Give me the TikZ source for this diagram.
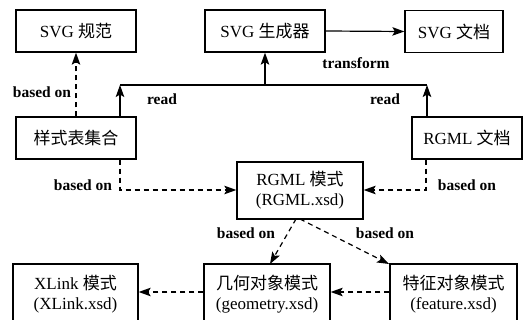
\documentclass[tikz,border=0pt]{standalone}
\usepackage{fontspec}
\setmainfont{Liberation Serif}
\newfontfamily\cjk{Noto Sans CJK SC}
\usetikzlibrary{arrows.meta}

\tikzset{
  box/.style={draw, line width=1.3pt, inner sep=0pt, align=center,
              font=\fontsize{17}{20}\selectfont},
  lbl/.style={font=\bfseries\fontsize{15.5}{17}\selectfont, inner sep=0pt},
  link/.style={line width=1.2pt, -{Stealth[length=12pt,width=8.5pt,inset=2.5pt]}},
  bus/.style={line width=1.2pt},
  dep/.style={link, dash pattern=on 5pt off 4pt},
}

\begin{document}
\begin{tikzpicture}[x=1pt,y=-1pt]
\useasboundingbox (0,0) rectangle (525,320);
\clip (0,0) rectangle (525,320);

% upper row
\node[box, minimum width=120pt, minimum height=42pt] (spec) at (76,31) {SVG {\cjk 规范}};
\node[box, minimum width=120pt, minimum height=42pt] (gen)  at (265,31) {SVG {\cjk 生成器}};
\node[box, minimum width=98pt,  minimum height=42pt] (doc)  at (454,31.5) {SVG {\cjk 文档}};

% middle row
\node[box, minimum width=120pt, minimum height=42pt] (css)  at (76,138) {\cjk 样式表集合};
\node[box, minimum width=110pt, minimum height=42pt] (rdoc) at (467,138) {RGML {\cjk 文档}};
\node[box, minimum width=126pt, minimum height=57pt] (rxsd) at (300,190.5) {RGML {\cjk 模式}\\(RGML.xsd)};

% lower row (boxes run past the lower edge)
\node[box, minimum width=125pt, minimum height=60pt] (xl)   at (75.5,294) {XLink {\cjk 模式}\\(XLink.xsd)};
\node[box, minimum width=126pt, minimum height=60pt] (geo)  at (267,294) {{\cjk 几何对象模式}\\(geometry.xsd)};
\node[box, minimum width=127pt, minimum height=60pt] (feat) at (453.5,294) {{\cjk 特征对象模式}\\(feature.xsd)};

% read bus feeding the generator
\coordinate (bl) at (120,85);
\coordinate (br) at (427,85);
\coordinate (bm) at (265,85);
\draw[bus] (bl) -- (br);
\draw[link] (css.north -| bl) -- (bl);
\draw[link] (rdoc.north -| br) -- (br);
\draw[link] (bm) -- (gen.south);
\draw[link] (gen.east) -- (doc.west);

% dependencies
\draw[dep] (css.north -| spec) -- (spec.south);
\coordinate (cl) at (120,190);
\coordinate (cr) at (426,190);
\draw[dep] (css.south -| cl) -- (cl) -- (rxsd.west |- cl);
\draw[dep] (rdoc.south -| cr) -- (cr) -- (rxsd.east |- cr);
\coordinate (sa) at (296,219);
\coordinate (sb) at (300,219);
\coordinate (ga) at (270,264);
\coordinate (fa) at (389,264);
\draw[dep] (sa) -- (ga);
\draw[dep] (sb) -- (fa);
\draw[dep] (geo.west |- 0,292) -- (xl.east |- 0,292);
\draw[dep] (feat.west |- 0,292) -- (geo.east |- 0,292);

% labels
\node[lbl] (t1) at (42,92)  {based on};
\node[lbl] (t2) at (162,99) {read};
\node[lbl] (t3) at (385,99) {read};
\node[lbl] (t4) at (356,63) {transform};
\node[lbl] (t5) at (83,185) {based on};
\node[lbl] (t6) at (467,185) {based on};
\node[lbl] (t7) at (246,233) {based on};
\node[lbl] (t8) at (385,233) {based on};
\end{tikzpicture}
\end{document}
